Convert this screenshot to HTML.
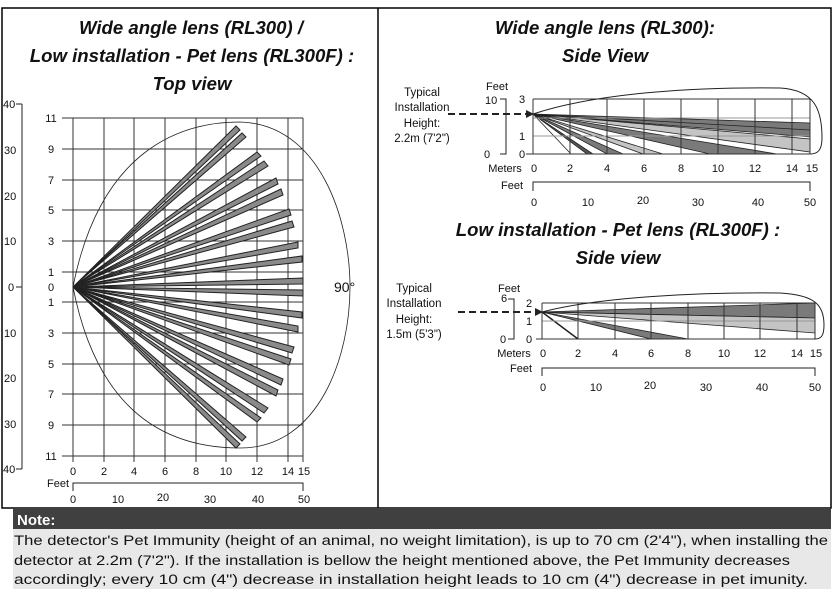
<!DOCTYPE html>
<html><head><meta charset="utf-8"><style>
html,body{margin:0;padding:0;background:#fff;width:840px;height:592px;overflow:hidden}
svg{display:block}
text{font-family:"Liberation Sans",sans-serif;fill:#111}
.t{font-weight:bold;font-style:italic;font-size:18.6px;text-anchor:middle}
.s{font-size:11px}
.m{text-anchor:middle}
</style></head><body>
<svg width="840" height="592" viewBox="0 0 840 592">
<rect x="2" y="8" width="829" height="500" fill="none" stroke="#000" stroke-width="1.5"/>
<line x1="378" y1="8" x2="378" y2="508" stroke="#000" stroke-width="1.5"/>
<text class="t" x="191" y="34">Wide angle lens (RL300) /</text>
<text class="t" x="192" y="62">Low installation - Pet lens (RL300F) :</text>
<text class="t" x="192" y="90">Top view</text>
<text class="t" x="605" y="34">Wide angle lens (RL300):</text>
<text class="t" x="605" y="62">Side View</text>
<text class="t" x="618" y="236">Low installation - Pet lens (RL300F) :</text>
<text class="t" x="618" y="264">Side view</text>

<!-- TOP VIEW -->
<g stroke="#222" stroke-width="1">
<line x1="22" y1="104" x2="22" y2="469"/>
<line x1="16" y1="104" x2="22" y2="104"/><line x1="16" y1="287" x2="22" y2="287"/><line x1="16" y1="469" x2="22" y2="469"/>
</g>
<g class="s">
<text x="3" y="108">40</text><text x="4" y="154">30</text><text x="4" y="200">20</text><text x="4" y="245">10</text><text x="8" y="291">0</text>
<text x="4" y="337">10</text><text x="4" y="382">20</text><text x="4" y="428">30</text><text x="3" y="473">40</text>
</g>
<g stroke="#333" stroke-width="1">
<line x1="62" y1="118" x2="303" y2="118"/><line x1="62" y1="149" x2="303" y2="149"/><line x1="62" y1="180" x2="303" y2="180"/>
<line x1="62" y1="210" x2="303" y2="210"/><line x1="62" y1="241" x2="303" y2="241"/><line x1="62" y1="272" x2="303" y2="272"/>
<line x1="62" y1="302" x2="303" y2="302"/><line x1="62" y1="333" x2="303" y2="333"/><line x1="62" y1="364" x2="303" y2="364"/>
<line x1="62" y1="394" x2="303" y2="394"/><line x1="62" y1="425" x2="303" y2="425"/><line x1="62" y1="456" x2="303" y2="456"/>
<line x1="73" y1="118" x2="73" y2="462"/><line x1="104" y1="118" x2="104" y2="462"/><line x1="134" y1="118" x2="134" y2="462"/>
<line x1="165" y1="118" x2="165" y2="462"/><line x1="196" y1="118" x2="196" y2="462"/><line x1="226" y1="118" x2="226" y2="462"/>
<line x1="257" y1="118" x2="257" y2="462"/><line x1="288" y1="118" x2="288" y2="462"/><line x1="303" y1="118" x2="303" y2="462"/>
</g>
<g class="s" text-anchor="middle">
<text x="51" y="122">11</text><text x="51" y="153">9</text><text x="51" y="184">7</text><text x="51" y="214">5</text><text x="51" y="245">3</text><text x="51" y="276">1</text><text x="51" y="291">0</text>
<text x="51" y="306">1</text><text x="51" y="337">3</text><text x="51" y="368">5</text><text x="51" y="398">7</text><text x="51" y="429">9</text><text x="51" y="460">11</text>
<text x="73" y="475">0</text><text x="104" y="475">2</text><text x="134" y="475">4</text><text x="165" y="475">6</text><text x="196" y="475">8</text><text x="226" y="475">10</text><text x="257" y="475">12</text><text x="288" y="475">14</text><text x="304" y="475">15</text>
<text x="73" y="503">0</text><text x="118" y="503">10</text><text x="163" y="501">20</text><text x="210" y="503">30</text><text x="258" y="503">40</text><text x="304" y="503">50</text>
</g>
<text class="s" x="47" y="487">Feet</text>
<path d="M73,491 V483 H303 V491" fill="none" stroke="#222"/>
<path d="M73,287 C100,150 180,122 240,122 C320,124 350,220 350,287 C350,355 320,448 240,448 C180,448 100,425 73,287 Z" fill="none" stroke="#222" stroke-width="0.8"/>
<g fill="#8a8a8a" stroke="#222" stroke-width="1">
<polygon points="73,287 236,126 240,130"/><polygon points="73,287 242,133 246,137"/>
<polygon points="73,287 257,152 261,156"/><polygon points="73,287 264,161 268,166"/>
<polygon points="73,287 276,178 278,184"/><polygon points="73,287 281,189 283,195"/>
<polygon points="73,287 289,209 291,215"/><polygon points="73,287 292,221 294,227"/>
<polygon points="73,287 298,242 298,248"/><polygon points="73,287 302,256 302,262"/>
<polygon points="73,287 303,278 303,284"/>
<polygon points="73,287 236,448 240,444"/><polygon points="73,287 242,441 246,437"/>
<polygon points="73,287 257,422 261,418"/><polygon points="73,287 264,413 268,408"/>
<polygon points="73,287 276,396 278,390"/><polygon points="73,287 281,385 283,379"/>
<polygon points="73,287 289,365 291,359"/><polygon points="73,287 292,353 294,347"/>
<polygon points="73,287 298,332 298,326"/><polygon points="73,287 302,318 302,312"/>
<polygon points="73,287 303,296 303,290"/>
</g>
<text x="334" y="292" style="font-size:14px">90°</text>

<!-- SIDE VIEW 1 -->
<g font-size="11.5px" text-anchor="middle">
<text x="422" y="96">Typical</text><text x="422" y="111">Installation</text><text x="422" y="127">Height:</text><text x="422" y="142">2.2m (7'2")</text>
</g>
<line x1="448" y1="114" x2="528" y2="114" stroke="#222" stroke-width="2" stroke-dasharray="7,4"/>
<polygon points="534,114 526,110 526,118" fill="#222"/>
<text class="s" x="486" y="90">Feet</text><text class="s" x="485" y="104">10</text><text class="s" x="484" y="158">0</text>
<path d="M500,99 H506 V154 H500" fill="none" stroke="#222"/>
<text class="s" x="519" y="103">3</text><text class="s" x="519" y="140">1</text><text class="s" x="519" y="158">0</text>
<g fill="#777" stroke="#222" stroke-width="0.8">
<polygon points="533,114 810,123 810,137" fill="#7a7a7a"/>
<polygon points="533,114 810,139 810,152" fill="#c4c4c4"/>
<polygon points="533,114 710,154 777,154" fill="#7a7a7a"/>
<polygon points="533,114 643,154 663,154" fill="#c4c4c4"/>
<polygon points="533,114 607,154 623,154" fill="#7a7a7a"/>
<polygon points="533,114 587,154 593,154" fill="#555"/>
<line x1="533" y1="114" x2="571" y2="154"/>
<line x1="533" y1="114" x2="810" y2="130"/>
</g>
<g stroke="#333" stroke-width="1">
<line x1="533" y1="99" x2="810" y2="99"/><line x1="533" y1="118" x2="810" y2="118" stroke="#999"/><line x1="533" y1="136" x2="810" y2="136" stroke="#999"/><line x1="526" y1="154" x2="810" y2="154"/>
<line x1="533" y1="99" x2="533" y2="154"/><line x1="570" y1="99" x2="570" y2="154"/><line x1="607" y1="99" x2="607" y2="154"/><line x1="644" y1="99" x2="644" y2="154"/><line x1="681" y1="99" x2="681" y2="154"/><line x1="718" y1="99" x2="718" y2="154"/><line x1="755" y1="99" x2="755" y2="154"/><line x1="792" y1="99" x2="792" y2="154"/><line x1="810" y1="99" x2="810" y2="154"/>
</g>
<path d="M533,114 C600,92 700,87 780,88 C815,90 822,110 822,138 C822,150 818,154 810,154" fill="none" stroke="#222"/>
<g class="s" text-anchor="middle">
<text x="505" y="172">Meters</text><text x="534" y="172">0</text><text x="570" y="172">2</text><text x="607" y="172">4</text><text x="644" y="172">6</text><text x="681" y="172">8</text><text x="718" y="172">10</text><text x="755" y="172">12</text><text x="792" y="172">14</text><text x="812" y="172">15</text>
<text x="512" y="189">Feet</text>
<text x="534" y="206">0</text><text x="588" y="206">10</text><text x="643" y="204">20</text><text x="698" y="206">30</text><text x="758" y="206">40</text><text x="810" y="206">50</text>
</g>
<path d="M533,191 V182 H810 V191" fill="none" stroke="#222"/>

<!-- SIDE VIEW 2 -->
<g font-size="11.5px" text-anchor="middle">
<text x="414" y="292">Typical</text><text x="414" y="307">Installation</text><text x="414" y="323">Height:</text><text x="414" y="338">1.5m (5'3")</text>
</g>
<line x1="458" y1="312" x2="536" y2="312" stroke="#222" stroke-width="2" stroke-dasharray="7,4"/>
<polygon points="543,312 535,308 535,316" fill="#222"/>
<text class="s m" x="509" y="292">Feet</text><text class="s" x="501" y="302">6</text><text class="s" x="500" y="343">0</text>
<path d="M508,299 H514 V339 H508" fill="none" stroke="#222"/>
<text class="s" x="526" y="307">2</text><text class="s" x="526" y="325">1</text><text class="s" x="526" y="343">0</text>
<g stroke="#222" stroke-width="0.8">
<polygon points="542,312 815,303 815,318" fill="#7a7a7a"/>
<polygon points="542,312 815,318 815,333" fill="#c4c4c4"/>
<polygon points="542,312 651,339 688,339" fill="#7a7a7a"/>
<line x1="542" y1="312" x2="578" y2="339" stroke-width="1.5"/>
</g>
<g stroke="#333" stroke-width="1">
<line x1="542" y1="303" x2="815" y2="303"/><line x1="542" y1="321" x2="815" y2="321" stroke="#999"/><line x1="536" y1="339" x2="815" y2="339"/>
<line x1="542" y1="303" x2="542" y2="339"/><line x1="578" y1="303" x2="578" y2="339"/><line x1="615" y1="303" x2="615" y2="339"/><line x1="651" y1="303" x2="651" y2="339"/><line x1="688" y1="303" x2="688" y2="339"/><line x1="724" y1="303" x2="724" y2="339"/><line x1="760" y1="303" x2="760" y2="339"/><line x1="797" y1="303" x2="797" y2="339"/><line x1="815" y1="303" x2="815" y2="339"/>
</g>
<path d="M542,312 C600,297 700,292 780,293 C815,295 824,305 824,325 C824,336 821,339 815,339" fill="none" stroke="#222"/>
<g class="s" text-anchor="middle">
<text x="514" y="357">Meters</text><text x="543" y="357">0</text><text x="578" y="357">2</text><text x="615" y="357">4</text><text x="651" y="357">6</text><text x="688" y="357">8</text><text x="724" y="357">10</text><text x="760" y="357">12</text><text x="797" y="357">14</text><text x="816" y="357">15</text>
<text x="521" y="372">Feet</text>
<text x="543" y="391">0</text><text x="596" y="391">10</text><text x="650" y="389">20</text><text x="706" y="391">30</text><text x="762" y="391">40</text><text x="815" y="391">50</text>
</g>
<path d="M542,376 V368 H815 V376" fill="none" stroke="#222"/>

<!-- NOTE -->
<rect x="13" y="509" width="818" height="20" fill="#404040"/>
<text x="17" y="525" style="fill:#fff;font-weight:bold;font-size:15px">Note:</text>
<rect x="13" y="529" width="818" height="60" fill="#e8e8e8"/>
<g style="font-size:14.2px" fill="#111">
<text x="14" y="545" textLength="814" lengthAdjust="spacingAndGlyphs">The detector's Pet Immunity (height of an animal, no weight limitation), is up to 70 cm (2'4"), when installing the</text>
<text x="14" y="565" textLength="776" lengthAdjust="spacingAndGlyphs">detector at 2.2m (7'2"). If the installation is bellow the height mentioned above, the Pet Immunity decreases</text>
<text x="14" y="584" textLength="794" lengthAdjust="spacingAndGlyphs">accordingly; every 10 cm (4") decrease in installation height leads to 10 cm (4") decrease in pet imunity.</text>
</g>
</svg>
</body></html>
